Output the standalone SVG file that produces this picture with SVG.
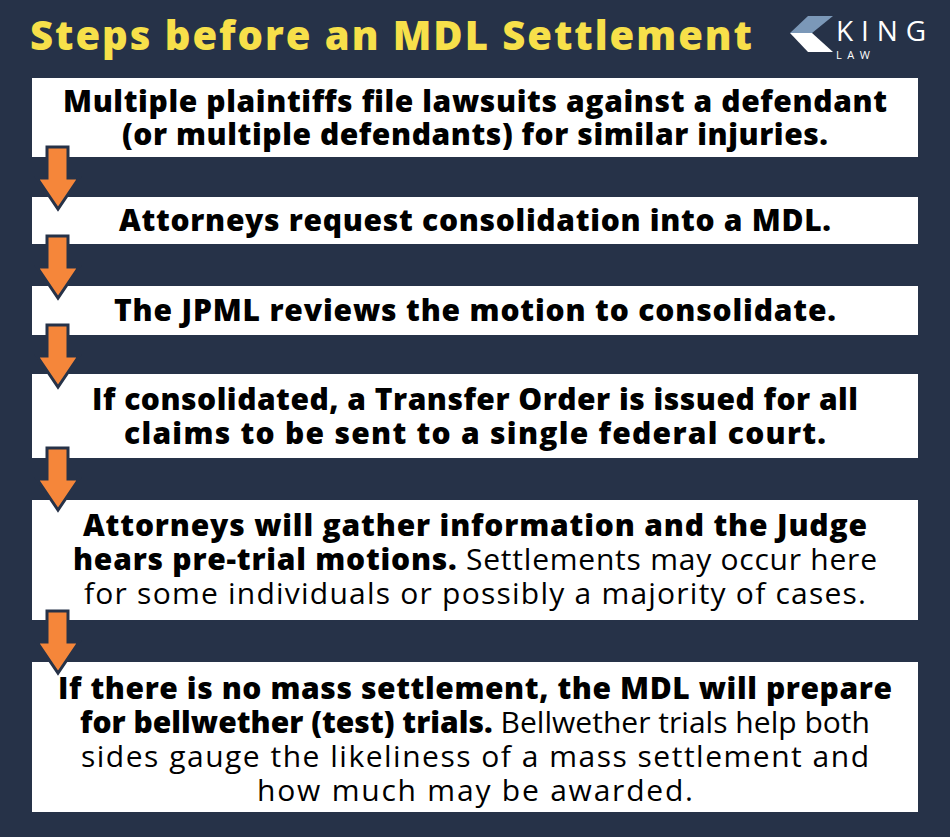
<svg xmlns="http://www.w3.org/2000/svg" width="950" height="837" viewBox="0 0 950 837">
<style>
.box{fill:#fff}
.t{font-family:"Open Sans","DejaVu Sans",sans-serif;font-size:30px;fill:#000;text-anchor:middle}
.b{font-weight:800}
.r{font-weight:400}
.arr{fill:#f5863a;stroke:#263248;stroke-width:3;stroke-linejoin:miter}
</style>
<defs><path id="a" d="M47,0 H68 V31 H79 L58,62 L37,31 H47 Z"/></defs>
<rect width="950" height="837" fill="#263248"/>
<text x="391" y="50" font-family="Open Sans,DejaVu Sans,sans-serif" font-weight="800" font-size="40" fill="#f7e04a" text-anchor="middle" textLength="722" lengthAdjust="spacing">Steps before an MDL Settlement</text>
<g id="logo">
<polygon points="808,16 833,16 812,33 790,33" fill="#7b98b8"/>
<polygon points="790,33 812,33 833,52 808,52" fill="#fff"/>
<text x="836" y="41" font-family="Open Sans,DejaVu Sans,sans-serif" font-size="28" fill="#fff" textLength="90" lengthAdjust="spacing">KING</text>
<text x="836" y="59" font-family="Open Sans,DejaVu Sans,sans-serif" font-size="11" fill="#fff" textLength="34" lengthAdjust="spacing">LAW</text>
</g>
<g id="n1"><rect class="box" x="32" y="78" width="886" height="79"/>
<text class="t b" x="475" y="112" textLength="824" lengthAdjust="spacing">Multiple plaintiffs file lawsuits against a defendant</text>
<text class="t b" x="475" y="145" textLength="706" lengthAdjust="spacing">(or multiple defendants) for similar injuries.</text></g>
<g id="n2"><rect class="box" x="32" y="197" width="886" height="47"/>
<text class="t b" x="475" y="231" textLength="712" lengthAdjust="spacing">Attorneys request consolidation into a MDL.</text></g>
<g id="n3"><rect class="box" x="32" y="286" width="886" height="49"/>
<text class="t b" x="475" y="321" textLength="722" lengthAdjust="spacing">The JPML reviews the motion to consolidate.</text></g>
<g id="n4"><rect class="box" x="32" y="374" width="886" height="84"/>
<text class="t b" x="475" y="410" textLength="766" lengthAdjust="spacing">If consolidated, a Transfer Order is issued for all</text>
<text class="t b" x="475" y="444" textLength="702" lengthAdjust="spacing">claims to be sent to a single federal court.</text></g>
<g id="n5"><rect class="box" x="32" y="500" width="886" height="120"/>
<text class="t b" x="475" y="536" textLength="784" lengthAdjust="spacing">Attorneys will gather information and the Judge</text>
<text class="t" x="475" y="570" textLength="804" lengthAdjust="spacing"><tspan class="b">hears pre-trial motions.</tspan><tspan class="r"> Settlements may occur here</tspan></text>
<text class="t r" x="475" y="604" textLength="782" lengthAdjust="spacing">for some individuals or possibly a majority of cases.</text></g>
<g id="n6"><rect class="box" x="32" y="662" width="886" height="150"/>
<text class="t b" x="475" y="699" textLength="834" lengthAdjust="spacing">If there is no mass settlement, the MDL will prepare</text>
<text class="t" x="475" y="733" textLength="790" lengthAdjust="spacing"><tspan class="b">for bellwether (test) trials.</tspan><tspan class="r"> Bellwether trials help both</tspan></text>
<text class="t r" x="475" y="767" textLength="788" lengthAdjust="spacing">sides gauge the likeliness of a mass settlement and</text>
<text class="t r" x="475" y="801" textLength="436" lengthAdjust="spacing">how much may be awarded.</text></g>
<g id="connectors">
<use href="#a" class="arr" y="147"/>
<use href="#a" class="arr" y="236"/>
<use href="#a" class="arr" y="325"/>
<use href="#a" class="arr" y="448"/>
<use href="#a" class="arr" y="611"/>
</g>
</svg>
